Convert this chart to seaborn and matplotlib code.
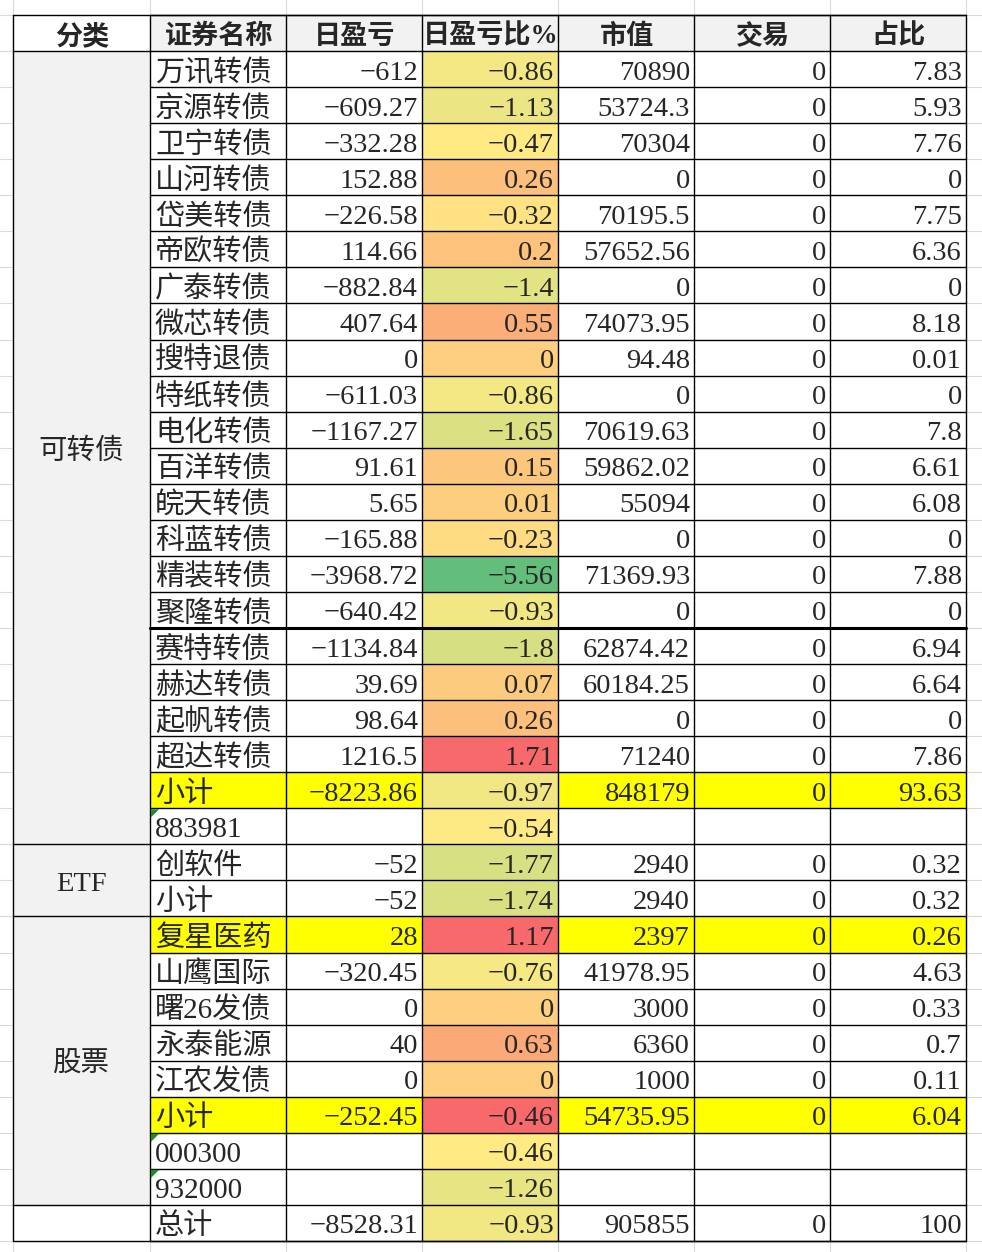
import numpy as np
import matplotlib
matplotlib.use("Agg")
import matplotlib.pyplot as plt
import seaborn as sns
from matplotlib.colors import LinearSegmentedColormap, TwoSlopeNorm
from matplotlib.patches import Rectangle, Polygon

sns.set_style("white")
plt.rcParams["font.family"] = ["Liberation Serif", "Noto Sans CJK SC", "DejaVu Sans"]

# ---- data ----
headers = ["分类", "证券名称", "日盈亏", "日盈亏比%", "市值", "交易", "占比"]
groups = ["可转债", "ETF", "股票", ""]
group_sizes = [22, 2, 8, 1]

names = ["万讯转债", "京源转债", "卫宁转债", "山河转债", "岱美转债", "帝欧转债",
         "广泰转债", "微芯转债", "搜特退债", "特纸转债", "电化转债", "百洋转债",
         "皖天转债", "科蓝转债", "精装转债", "聚隆转债", "赛特转债", "赫达转债",
         "起帆转债", "超达转债", "小计", "883981",
         "创软件", "小计",
         "复星医药", "山鹰国际", "曙26发债", "永泰能源", "江农发债", "小计",
         "000300", "932000",
         "总计"]
day_pnl = [-612, -609.27, -332.28, 152.88, -226.58, 114.66, -882.84, 407.64, 0,
           -611.03, -1167.27, 91.61, 5.65, -165.88, -3968.72, -640.42, -1134.84,
           39.69, 98.64, 1216.5, -8223.86, None,
           -52, -52,
           28, -320.45, 0, 40, 0, -252.45, None, None,
           -8528.31]
day_pct = [-0.86, -1.13, -0.47, 0.26, -0.32, 0.2, -1.4, 0.55, 0, -0.86, -1.65,
           0.15, 0.01, -0.23, -5.56, -0.93, -1.8, 0.07, 0.26, 1.71, -0.97, -0.54,
           -1.77, -1.74,
           1.17, -0.76, 0, 0.63, 0, -0.46, -0.46, -1.26,
           -0.93]
market_value = [70890, 53724.3, 70304, 0, 70195.5, 57652.56, 0, 74073.95, 94.48,
                0, 70619.63, 59862.02, 55094, 0, 71369.93, 0, 62874.42, 60184.25,
                0, 71240, 848179, None,
                2940, 2940,
                2397, 41978.95, 3000, 6360, 1000, 54735.95, None, None,
                905855]
trade = [0] * 21 + [None] + [0, 0] + [0] * 6 + [None, None] + [0]
weight = [7.83, 5.93, 7.76, 0, 7.75, 6.36, 0, 8.18, 0.01, 0, 7.8, 6.61, 6.08, 0,
          7.88, 0, 6.94, 6.64, 0, 7.86, 93.63, None,
          0.32, 0.32,
          0.26, 4.63, 0.33, 0.7, 0.11, 6.04, None, None,
          100]


def fmt(v):
    if v is None:
        return ""
    s = str(int(v)) if float(v).is_integer() else str(v)
    return s.replace("-", "\u2212")


# ---- layout (pixels) ----
W, H = 982, 1252
x0, y0 = 13, 15
col_w = [137, 136, 136, 136, 136, 136, 136]
n_rows = len(names) + 1
row_h = (1241 - y0) / n_rows
col_edges = x0 + np.concatenate([[0], np.cumsum(col_w)])
row_edges = y0 + np.arange(n_rows + 1) * row_h
dy = 4  # text sits a little below the row centre

yellow_rows = {20, 24, 29}
own_rule_rows = {24, 29}   # cells with their own conditional-format rule

fig = plt.figure(figsize=(W / 100, H / 100), dpi=100)

# ratio column colour scale via seaborn heatmap
ax_hm = fig.add_axes([col_edges[3] / W, 1 - row_edges[-1] / H,
                      col_w[3] / W, (row_edges[-1] - row_edges[1]) / H])
ax_hm.set_zorder(1)
pct = np.array(day_pct, dtype=float)
main = np.array([i not in own_rule_rows for i in range(len(pct))])
norm = TwoSlopeNorm(vmin=pct[main].min(), vcenter=np.median(pct[main]),
                    vmax=pct[main].max())
color_vals = pct.copy()
color_vals[~main] = norm.vmax
cmap = LinearSegmentedColormap.from_list("gyr", ["#63BE7B", "#FFEB84", "#F8696B"])
sns.heatmap(color_vals.reshape(-1, 1), ax=ax_hm, cmap=cmap, norm=norm, cbar=False,
            xticklabels=False, yticklabels=False)
ax_hm.axis("off")

ax = fig.add_axes([0, 0, 1, 1])
ax.set_zorder(2)
ax.patch.set_alpha(0)
ax.set_xlim(0, W)
ax.set_ylim(H, 0)
ax.axis("off")

# excel gridlines outside the table
grid_c = "#D9D9D9"
for x in col_edges:
    ax.plot([x, x], [0, H], color=grid_c, lw=0.8, zorder=0)
for y in row_edges:
    ax.plot([0, W], [y, y], color=grid_c, lw=0.8, zorder=0)

# white table background (ratio column is left to the heatmap)
for c in range(7):
    if c == 3:
        continue
    ax.add_patch(Rectangle((col_edges[c], row_edges[1]), col_w[c],
                           row_edges[-1] - row_edges[1], fc="white", ec="none", zorder=1))

# header
for c, h in enumerate(headers):
    fc = "white" if c == 0 else "#F2F2F2"
    ax.add_patch(Rectangle((col_edges[c], row_edges[0]), col_w[c], row_h,
                           fc=fc, ec="none", zorder=1))
    ax.text((col_edges[c] + col_edges[c + 1]) / 2 + 1, row_edges[0] + row_h / 2 + dy, h,
            ha="center", va="center", fontsize=19.5, fontweight="bold", zorder=5)

# category merged cells
start = 1
for g, size in zip(groups, group_sizes):
    top, bot = row_edges[start], row_edges[start + size]
    if g:
        ax.add_patch(Rectangle((col_edges[0], top), col_w[0], bot - top,
                               fc="#F2F2F2", ec="none", zorder=1))
        ax.text((col_edges[0] + col_edges[1]) / 2, (top + bot) / 2 + dy, g,
                ha="center", va="center", fontsize=20.5, zorder=5)
    ax.plot([col_edges[0], col_edges[1]], [top, top], color="black", lw=1, zorder=4)
    start += size

# body rows
cols = [names, day_pnl, day_pct, market_value, trade, weight]
for i in range(len(names)):
    r = i + 1
    top = row_edges[r]
    yc = top + row_h / 2 + dy
    if i in yellow_rows:
        for c in range(1, 7):
            if c == 3:
                continue
            ax.add_patch(Rectangle((col_edges[c], top), col_w[c], row_h,
                                   fc="#FFFF00", ec="none", zorder=2))
    ax.text(col_edges[1] + 5, yc, names[i], ha="left", va="center",
            fontsize=21, zorder=5)
    if names[i].isdigit():
        ax.add_patch(Polygon([(col_edges[1] + 1, top + 1), (col_edges[1] + 9, top + 1),
                              (col_edges[1] + 1, top + 9)], closed=True,
                             fc="#1E8C1E", ec="none", zorder=5))
    for c in range(2, 7):
        ax.text(col_edges[c + 1] - 4, yc, fmt(cols[c - 1][i]), ha="right",
                va="center", fontsize=20.5, zorder=5)

# borders
for x in col_edges:
    ax.plot([x, x], [row_edges[0], row_edges[-1]], color="black", lw=1, zorder=4)
for y in row_edges:
    ax.plot([col_edges[1], col_edges[-1]], [y, y], color="black", lw=1, zorder=4)
ax.plot([col_edges[0], col_edges[-1]], [row_edges[0]] * 2, color="black", lw=1, zorder=4)
ax.plot([col_edges[0], col_edges[-1]], [row_edges[-1]] * 2, color="black", lw=1, zorder=4)
ax.plot([col_edges[1], col_edges[-1]], [row_edges[17]] * 2, color="black", lw=2.2, zorder=4)

fig.savefig("out.png", dpi=100)
